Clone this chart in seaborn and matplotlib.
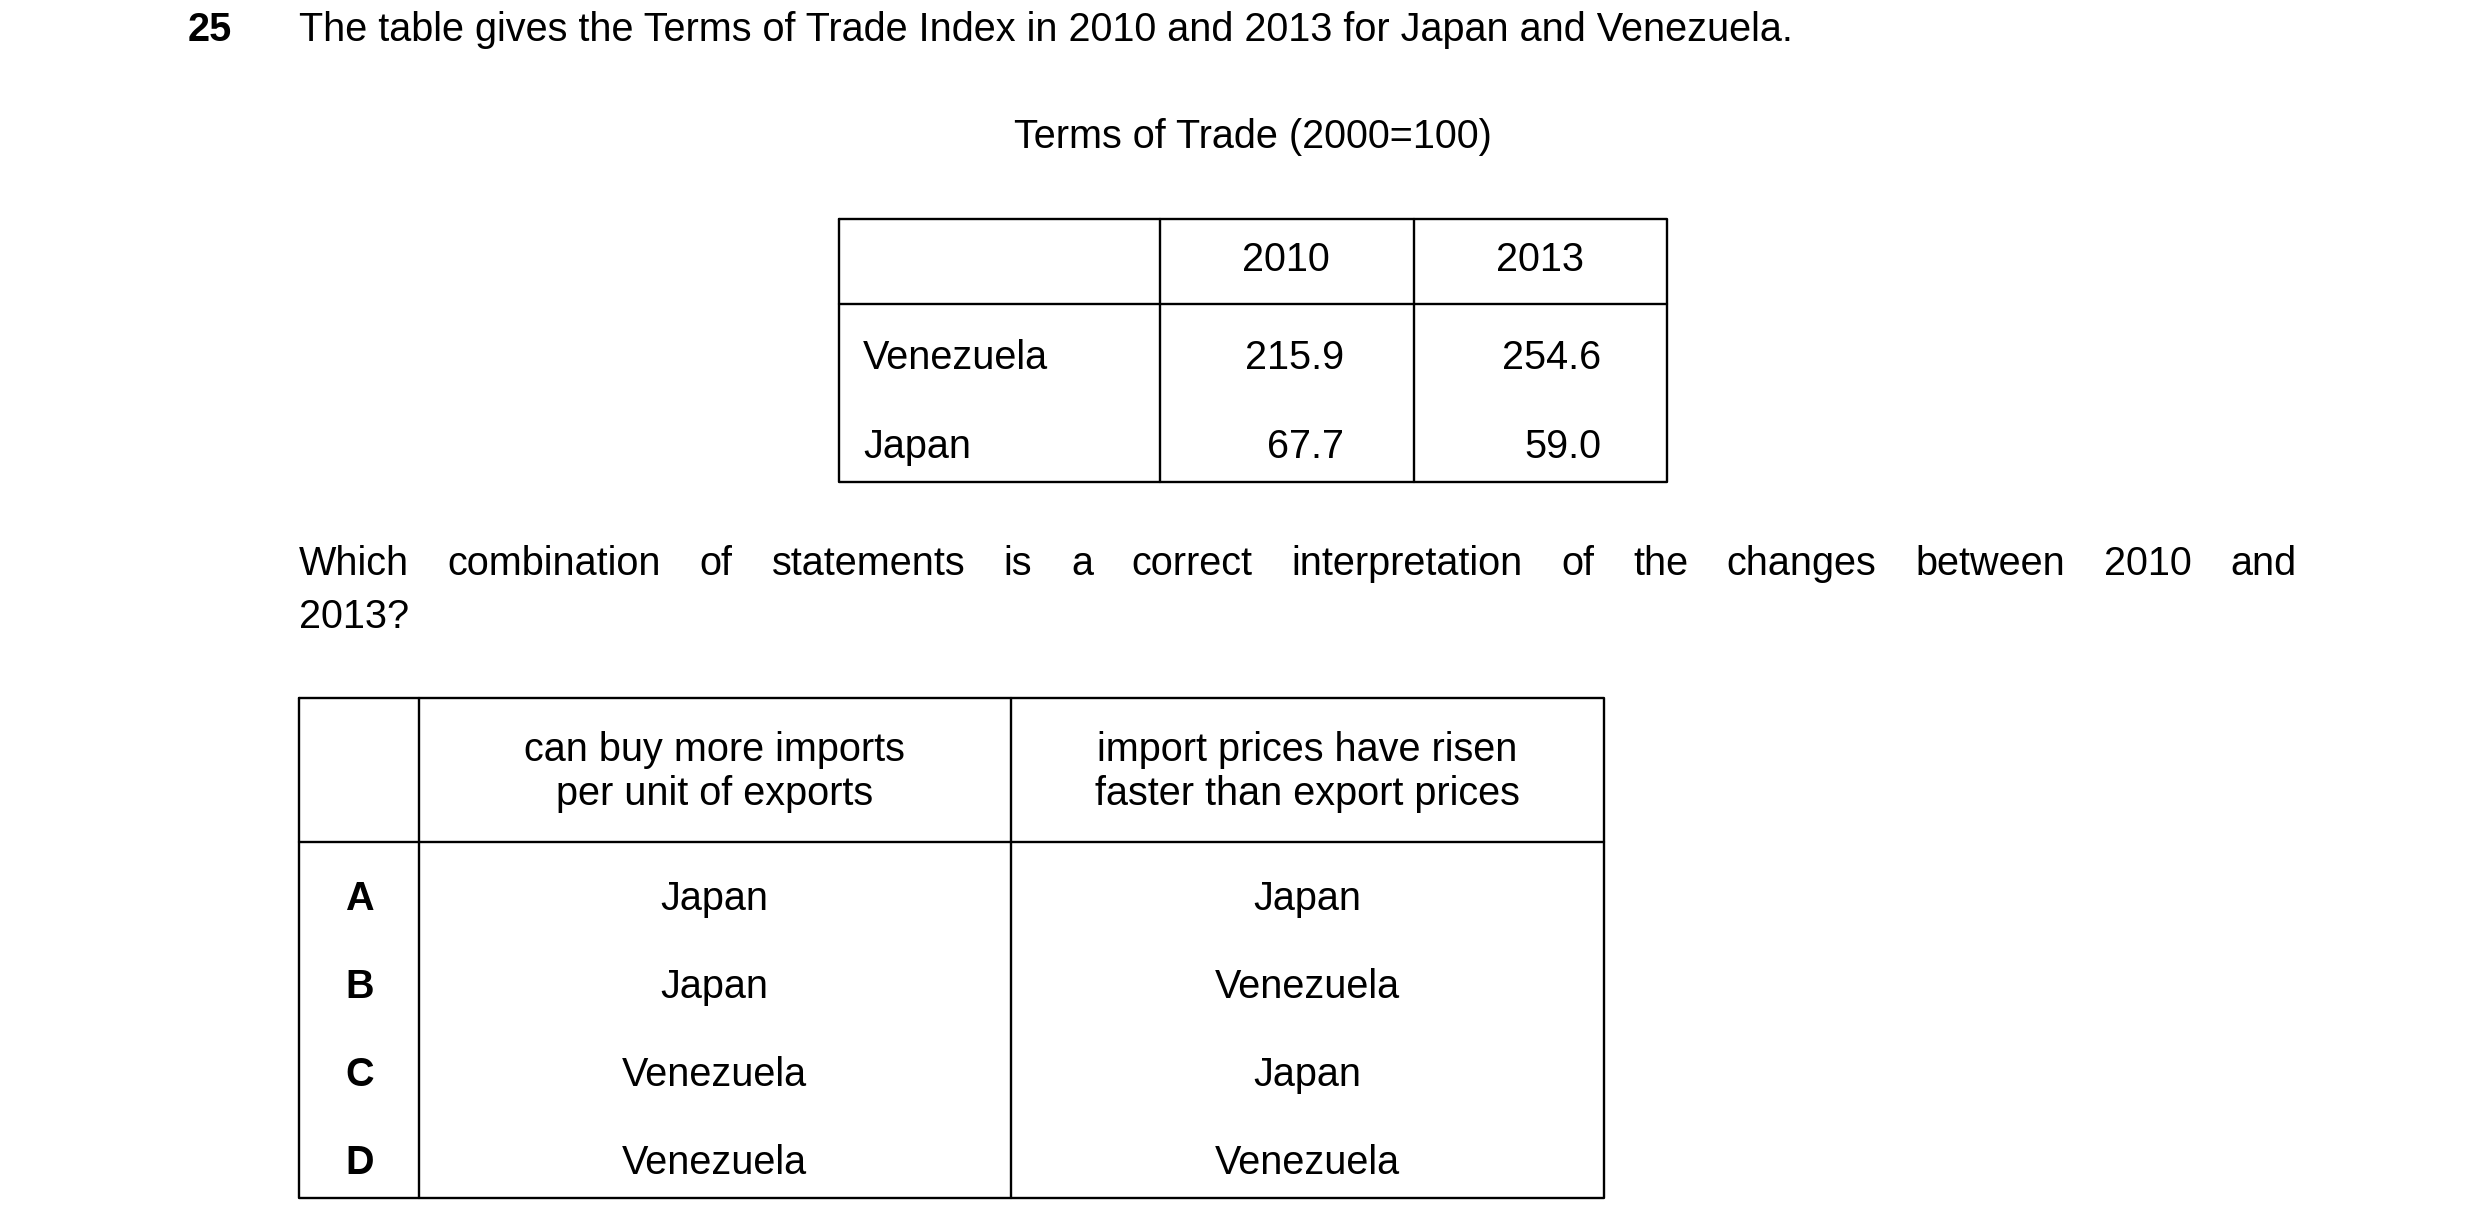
import matplotlib
matplotlib.use("Agg")
import matplotlib.pyplot as plt
import seaborn as sns

sns.set_theme(style="white")
plt.rcParams['font.family'] = ['Liberation Sans', 'DejaVu Sans']

q_number = "25"
q_intro = "The table gives the Terms of Trade Index in 2010 and 2013 for Japan and Venezuela."
table_title = "Terms of Trade (2000=100)"
years = ["2010", "2013"]
countries = ["Venezuela", "Japan"]
values_2010 = ["215.9", "67.7"]
values_2013 = ["254.6", "59.0"]
question_line1 = "Which combination of statements is a correct interpretation of the changes between 2010 and"
question_line2 = "2013?"
option_headers = ["can buy more imports\nper unit of exports", "import prices have risen\nfaster than export prices"]
option_letters = ["A", "B", "C", "D"]
option_col1 = ["Japan", "Japan", "Venezuela", "Venezuela"]
option_col2 = ["Japan", "Venezuela", "Japan", "Venezuela"]

W, H = 1552, 768
fig = plt.figure(figsize=(24.8, 12.27), dpi=100)
ax = fig.add_axes([0, 0, 1, 1])
ax.set_xlim(0, W); ax.set_ylim(H, 0); ax.axis("off")
fs = 28.5
lw = 1.7

def T(x, y, s, ha="left", bold=False):
    return ax.text(x, y, s, ha=ha, va="center", fontsize=fs, color="black",
                   fontweight="bold" if bold else "normal", linespacing=1.2)

def box(x0, x1, y0, y1):
    ax.plot([x0, x1, x1, x0, x0], [y0, y0, y1, y1, y0], color="black", lw=lw)

def vl(x, y0, y1): ax.plot([x, x], [y0, y1], color="black", lw=lw)
def hl(y, x0, x1): ax.plot([x0, x1], [y, y], color="black", lw=lw)

T(131, 19, q_number, ha="center", bold=True)
T(187, 19, q_intro)
T(784, 86, table_title, ha="center")

# table 1
box(525, 1043, 137, 302)
vl(726, 137, 302); vl(885, 137, 302); hl(190, 525, 1043)
T(805, 163, years[0], ha="center"); T(964, 163, years[1], ha="center")
for i, (c, a, b) in enumerate(zip(countries, values_2010, values_2013)):
    y = 224 + i * 56
    T(540, y, c); T(841, y, a, ha="right"); T(1002, y, b, ha="right")

# justified question line
fig.canvas.draw()
r = fig.canvas.get_renderer()
words = question_line1.split()
arts = [T(0, 353, w) for w in words]
inv = ax.transData.inverted()
widths = []
for a in arts:
    bb = a.get_window_extent(r)
    p0 = inv.transform((bb.x0, bb.y0)); p1 = inv.transform((bb.x1, bb.y0))
    widths.append(p1[0] - p0[0])
gap = (1437 - 187 - sum(widths)) / (len(words) - 1)
x = 187
for a, w in zip(arts, widths):
    a.set_x(x); x += w + gap
T(187, 386, question_line2)

# table 2
box(187, 1004, 437, 750)
vl(262, 437, 750); vl(633, 437, 750); hl(527, 187, 1004)
T(447, 483, option_headers[0], ha="center")
T(818, 483, option_headers[1], ha="center")
for i, (L, a, b) in enumerate(zip(option_letters, option_col1, option_col2)):
    y = 563 + i * 55
    T(225, y, L, ha="center", bold=True)
    T(447, y, a, ha="center"); T(818, y, b, ha="center")

fig.savefig("out.png", dpi=100, facecolor="white")
